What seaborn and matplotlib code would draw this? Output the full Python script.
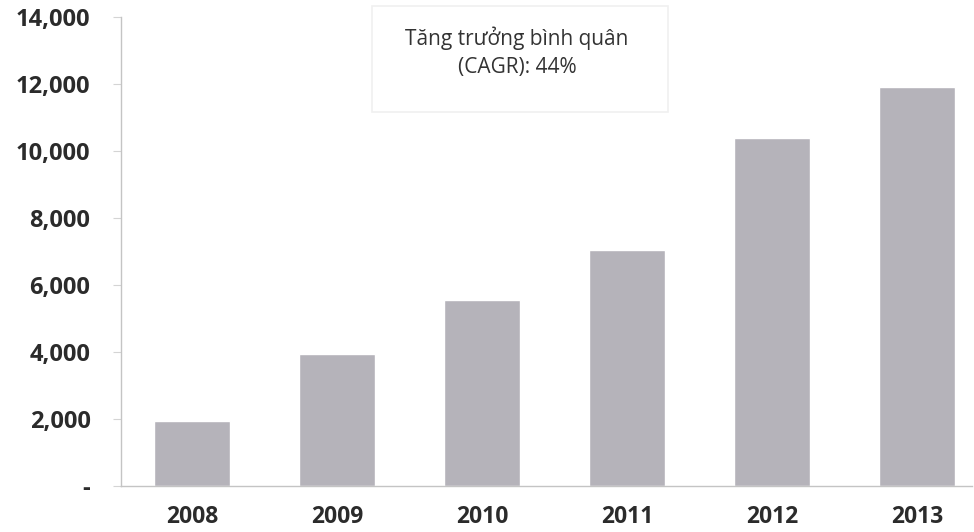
import pandas as pd
import matplotlib.pyplot as plt
import seaborn as sns
from matplotlib.patches import Rectangle

# Dữ liệu
years = ['2008', '2009', '2010', '2011', '2012', '2013']
values = [1950, 3950, 5550, 7050, 10400, 11900]
y_ticks = [0, 2000, 4000, 6000, 8000, 10000, 12000, 14000]
y_tick_labels = ['-', '2,000', '4,000', '6,000', '8,000', '10,000', '12,000', '14,000']
note_text = 'Tăng trưởng bình quân\n(CAGR): 44%'

df = pd.DataFrame({'Năm': years, 'Giá trị': values})

sns.set_style('white')
plt.rcParams['font.family'] = ['Open Sans', 'DejaVu Sans']

fig = plt.figure(figsize=(9.74, 5.32), dpi=100)
ax = fig.add_axes([121 / 974, 46 / 532, (972 - 121) / 974, 469 / 532])

sns.barplot(data=df, x='Năm', y='Giá trị', color='#b5b3ba', saturation=1,
            width=0.52, ax=ax)

ax.set_ylim(0, 14000)
ax.set_xlim(-0.49, 5.38)
ax.set_yticks(y_ticks)
ax.set_yticklabels(y_tick_labels)
ax.set_xlabel('')
ax.set_ylabel('')

for s in ['top', 'right']:
    ax.spines[s].set_visible(False)
for s in ['left', 'bottom']:
    ax.spines[s].set_color('#c4c4c4')
    ax.spines[s].set_linewidth(1.0)

ax.tick_params(axis='y', length=6, color='#d4d4d4', pad=16, labelsize=17,
               labelcolor='#2b2b2b', left=True)
ax.tick_params(axis='x', length=0, pad=14, labelsize=16.5, labelcolor='#2b2b2b')
for lbl in ax.get_xticklabels() + ax.get_yticklabels():
    lbl.set_fontweight('bold')

# Hộp chú thích CAGR
fig.patches.append(Rectangle((372 / 974, 1 - 112 / 532), 296 / 974, 106 / 532,
                             transform=fig.transFigure, facecolor='white',
                             edgecolor='#f0f0f0', linewidth=1.2, zorder=5))
fig.text(517 / 974, 1 - 52 / 532, note_text, ha='center', va='center',
         fontsize=15, color='#333333', linespacing=1.45, zorder=6)

fig.savefig('out.png', dpi=100)
